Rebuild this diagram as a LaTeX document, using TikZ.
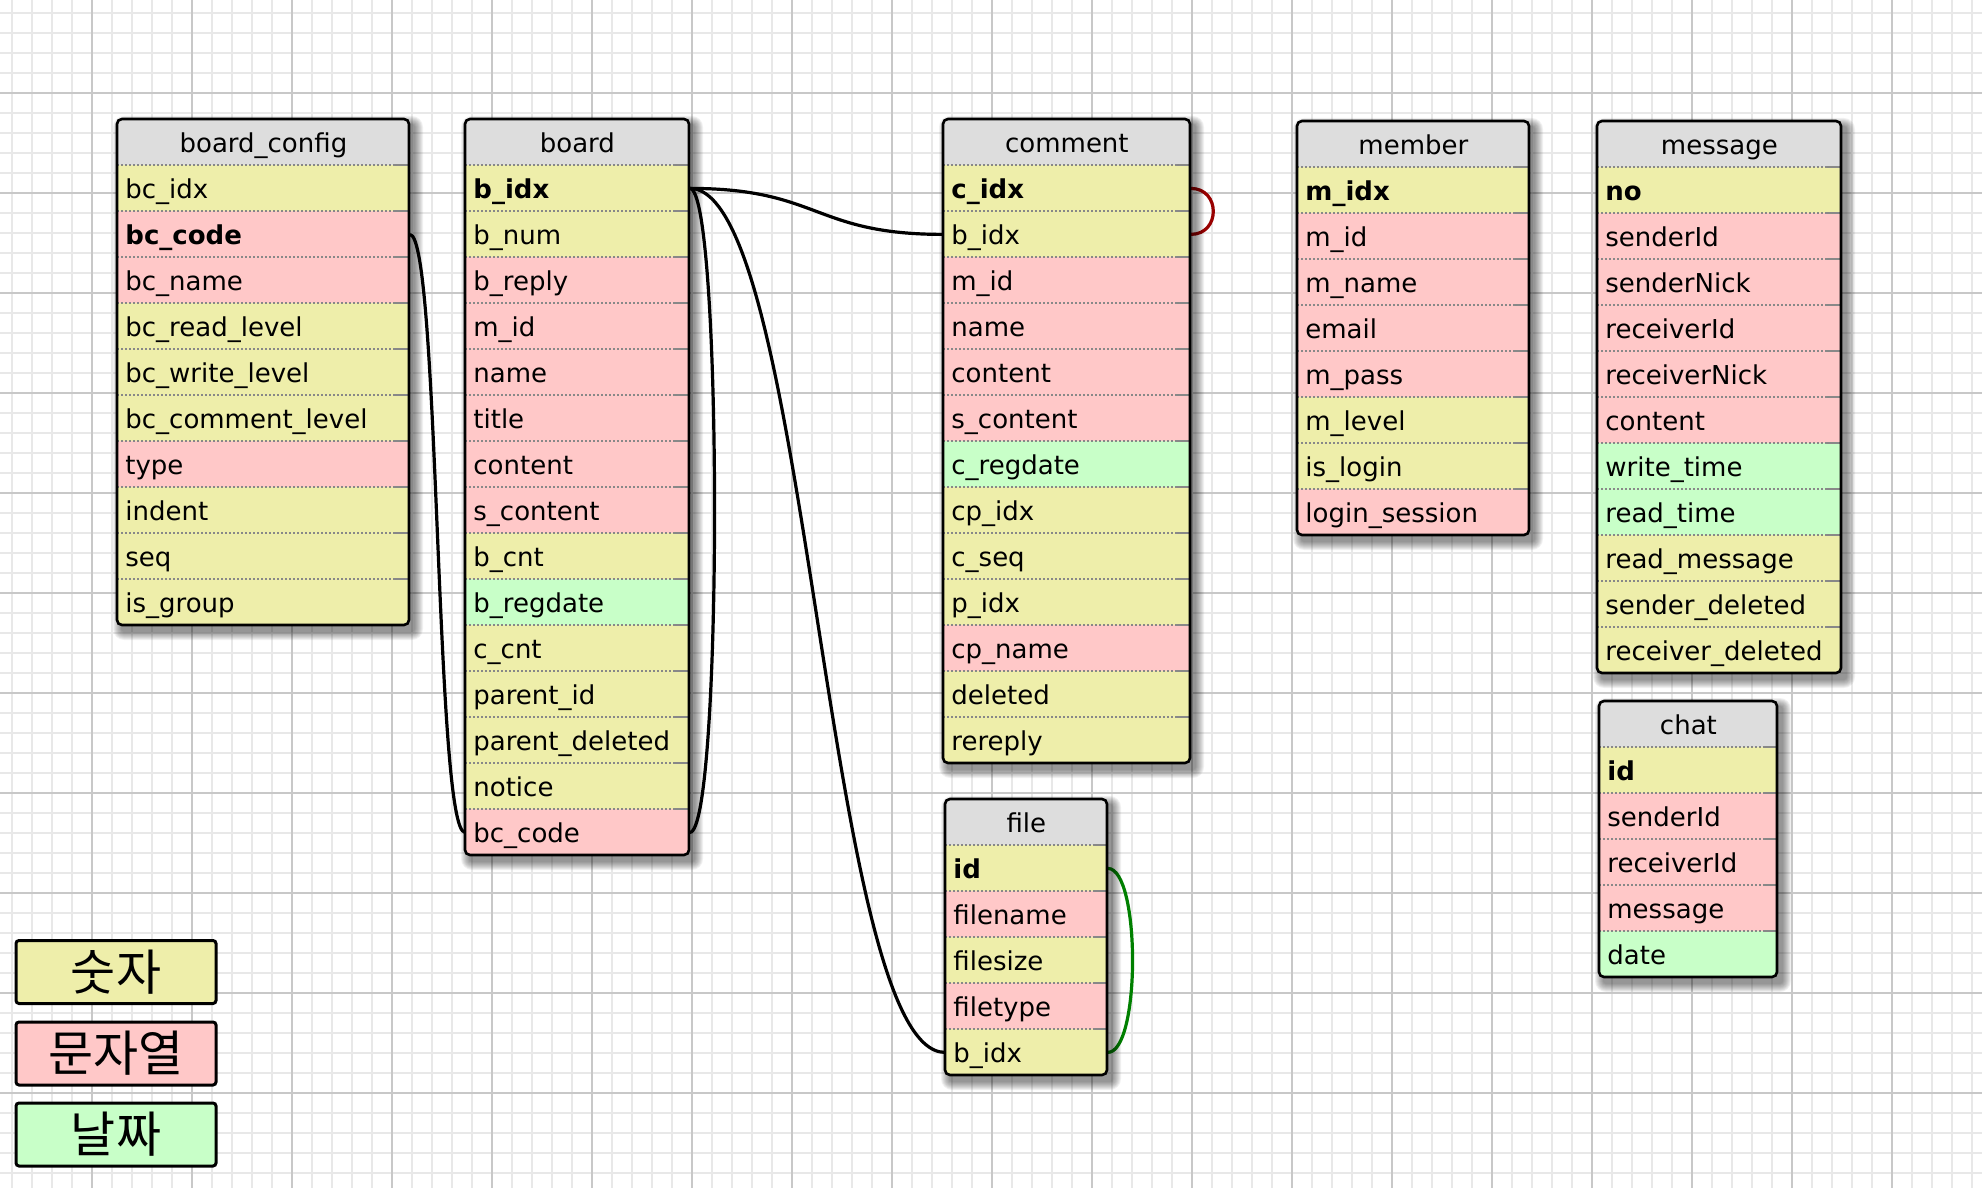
\documentclass[tikz,border=0pt]{standalone}
\usepackage{fontspec}
\setmainfont{DejaVu Sans}
\newfontfamily\krfont{Noto Sans CJK KR}
\usetikzlibrary{calc}
\definecolor{Y}{HTML}{EEEEAA}
\definecolor{P}{HTML}{FFC8C8}
\definecolor{G}{HTML}{C8FFC8}
\definecolor{hdrgray}{HTML}{DDDDDD}
\definecolor{gminorc}{HTML}{E8E8E8}
\definecolor{gmajorc}{HTML}{C8C8C8}
\definecolor{sepc}{HTML}{888888}
\definecolor{redc}{HTML}{990000}
\definecolor{greenc}{HTML}{008000}
\pgfdeclarelayer{gridlayer}
\pgfdeclarelayer{connlayer}
\pgfsetlayers{gridlayer,connlayer,main}
\tikzset{
  hdrbox/.style={rectangle,fill=hdrgray,inner sep=0pt,minimum height=23pt},
  rowbox/.style={rectangle,inner sep=0pt,minimum height=23pt},
  celltext/.style={inner sep=0pt,font=\fontsize{13pt}{15pt}\selectfont},
  sepline/.style={draw=sepc,line width=1pt,dash pattern=on 1pt off 1pt},
  sepend/.style={draw=sepc,line width=1pt},
  tblborder/.style={draw=black,line width=1.3pt,rounded corners=2.5pt},
  rel/.style={draw=black,line width=1.6pt},
  gminor/.style={draw=gminorc,line width=1pt},
  gmajor/.style={draw=gmajorc,line width=1pt},
  legendbox/.style={rectangle,draw=black,line width=1.5pt,rounded corners=1.5pt,
    minimum width=100pt,minimum height=31.5pt,inner sep=0pt,
    font=\krfont\fontsize{24.5pt}{28pt}\selectfont},
}
% #1 name, #2 x, #3 y, #4 width, #5 number of rows, #6 title, #7 rows
\newcommand\erdtab[7]{%
  \pgfmathsetmacro\erdh{46+46*#5}%
  \foreach \k in {1,...,9}{
    \fill[black,opacity=0.055,rounded corners={(2+\k)*0.5pt}]
      ({#2+5-\k},{#3+6-\k}) rectangle ({#2+#4+5+\k},{#3+\erdh+6+\k});
  }
  \begin{scope}
    \clip[rounded corners=2.5pt] (#2,#3) rectangle ({#2+#4},{#3+\erdh});
    \node[hdrbox,minimum width={#4*0.5pt},anchor=north west] (#1-0) at (#2,#3) {};
    \node[celltext,anchor=base] (#1-title) at ([yshift=-5.25pt]#1-0.center) {#6};
    \foreach \rcol/\rtxt [count=\i] in {#7} {
      \node[rowbox,fill=\rcol,minimum width={#4*0.5pt},anchor=north west] (#1-\i) at ({#2},{#3+46*\i}) {};
      \node[celltext,anchor=base west] (#1-\i-t) at ([xshift=4pt,yshift=-5pt]#1-\i.west) {\rtxt};
      \draw[sepline] (#1-\i.north west) -- ([xshift=-7.5pt]#1-\i.north east);
      \draw[sepend] ([xshift=-7.5pt]#1-\i.north east) -- (#1-\i.north east);
    }
  \end{scope}
  \draw[tblborder] (#2,#3) rectangle ({#2+#4},{#3+\erdh});
}
\begin{document}
\begin{tikzpicture}[x=0.5pt,y=-0.5pt]
\useasboundingbox (0,0) rectangle (1982,1188);
\begin{pgfonlayer}{gridlayer}
  \fill[white] (0,0) rectangle (1982,1188);
  \foreach \gx in {11.5,31.5,...,1982} \draw[gminor] (\gx,0) -- (\gx,1188);
  \foreach \gy in {12.7,32.7,...,1188} \draw[gminor] (0,\gy) -- (1982,\gy);
  \foreach \gx in {91.5,191.5,...,1982} \draw[gmajor] (\gx,0) -- (\gx,1188);
  \foreach \gy in {92.7,192.7,...,1188} \draw[gmajor] (0,\gy) -- (1982,\gy);
\end{pgfonlayer}

\erdtab{bc}{117}{119}{292}{10}{board\_config}{Y/bc\_idx, P/\bfseries bc\_code, P/bc\_name, Y/bc\_read\_level, Y/bc\_write\_level, Y/bc\_comment\_level, P/type, Y/indent, Y/seq, Y/is\_group}

\erdtab{board}{465}{119}{224}{15}{board}{Y/\bfseries b\_idx, Y/b\_num, P/b\_reply, P/m\_id, P/name, P/title, P/content, P/s\_content, Y/b\_cnt, G/b\_regdate, Y/c\_cnt, Y/parent\_id, Y/parent\_deleted, Y/notice, P/bc\_code}

\erdtab{comment}{943}{119}{247}{13}{comment}{Y/\bfseries c\_idx, Y/b\_idx, P/m\_id, P/name, P/content, P/s\_content, G/c\_regdate, Y/cp\_idx, Y/c\_seq, Y/p\_idx, P/cp\_name, Y/deleted, Y/rereply}

\erdtab{member}{1297}{121}{232}{8}{member}{Y/\bfseries m\_idx, P/m\_id, P/m\_name, P/email, P/m\_pass, Y/m\_level, Y/is\_login, P/login\_session}

\erdtab{message}{1597}{121}{244}{11}{message}{Y/\bfseries no, P/senderId, P/senderNick, P/receiverId, P/receiverNick, P/content, G/write\_time, G/read\_time, Y/read\_message, Y/sender\_deleted, Y/receiver\_deleted}

\erdtab{chat}{1599}{701}{178}{5}{chat}{Y/\bfseries id, P/senderId, P/receiverId, P/message, G/date}

\erdtab{file}{945}{799}{162}{5}{file}{Y/\bfseries id, P/filename, Y/filesize, P/filetype, Y/b\_idx}

\begin{pgfonlayer}{connlayer}
  \draw[rel] (board-1.east) .. controls +(130,0) and +(-130,0) .. (comment-2.west);
  \draw[rel] (board-1.east) .. controls +(120,0) and +(-120,0) .. (file-5.west);
  \draw[rel] (board-1.east) .. controls +(33,0) and +(33,0) .. (board-15.east);
  \draw[rel] (bc-2.east) .. controls +(30,0) and +(-30,0) .. (board-15.west);
  \draw[rel,draw=greenc] (file-1.east) .. controls +(33,0) and +(33,0) .. (file-5.east);
  \draw[rel,draw=redc] (comment-1.east) .. controls +(30,0) and +(30,0) .. (comment-2.east);
\end{pgfonlayer}

\node[legendbox,fill=Y] (lg1) at (116,972) {숫자};
\node[legendbox,fill=P] (lg2) at (116,1053.5) {문자열};
\node[legendbox,fill=G] (lg3) at (116,1134.5) {날짜};
\end{tikzpicture}
\end{document}
